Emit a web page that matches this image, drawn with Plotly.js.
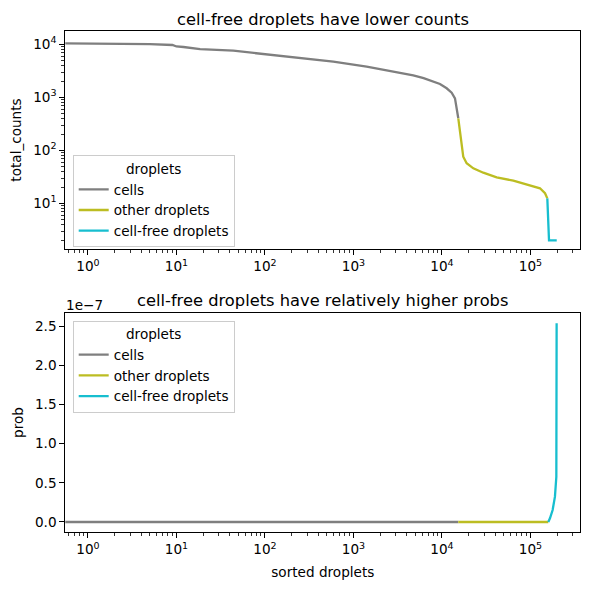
<!DOCTYPE html>
<html>
<head>
<meta charset="utf-8">
<script src="https://cdn.plot.ly/plotly-3.0.1.min.js"></script>
<style>html,body{margin:0;padding:0;background:#fff;}#chart{width:590px;height:590px;}</style>
</head>
<body>
<div id="chart"></div>
<script>
// ---- data ----
// top panel: total counts vs droplet rank
const cellsRank   = [0.5, 1, 2, 3, 5, 9, 10, 12, 18.5, 44, 104, 248, 592, 1410, 3350, 4740, 6200, 7310, 9490, 11300, 12870, 14030, 14660, 15290];
const cellsCounts = [10400, 10400, 10350, 10300, 10100, 9700, 9100, 8900, 8100, 7570, 6480, 5590, 4700, 3780, 2910, 2600, 2300, 2080, 1780, 1480, 1222, 958, 665, 402];
const otherRank   = [15290, 15970, 16700, 17400, 19000, 22600, 29300, 34800, 41500, 64000, 98700, 128000, 146000, 155000];
const otherCounts = [402, 242, 117, 75.7, 56.9, 45.7, 37.8, 34.2, 31.0, 26.7, 22.1, 19.2, 15.5, 12.4];
const freeRank    = [155000, 158500, 162000, 198000];
const freeCounts  = [12.4, 5, 2, 2];
// bottom panel: prob (in units of 1e-7) vs droplet rank
const cellsProbRank = [0.5, 15290];
const cellsProb     = [0, 0];
const otherProbRank = [15290, 159000];
const otherProb     = [0, 0];
const freeProbRank  = [159000, 166000, 178000, 189000, 196000, 196800, 197500];
const freeProb      = [0, 0.047, 0.153, 0.323, 0.578, 1.2, 2.54];

const seriesNames = ['cells', 'other droplets', 'cell-free droplets'];
const seriesColors = ['#7f7f7f', '#bcbd22', '#17becf'];
const xMajor = [1, 10, 100, 1000, 10000, 100000];
const xMajorText = ['10<sup>0</sup>', '10<sup>1</sup>', '10<sup>2</sup>', '10<sup>3</sup>', '10<sup>4</sup>', '10<sup>5</sup>'];
const yMajor = [10, 100, 1000, 10000];
const yMajorText = ['10<sup>1</sup>', '10<sup>2</sup>', '10<sup>3</sup>', '10<sup>4</sup>'];
const probTicks = [0, 0.5, 1.0, 1.5, 2.0, 2.5];
const probTickText = ['0.0', '0.5', '1.0', '1.5', '2.0', '2.5'];

function minorLog(lo, hi) {
  const v = [];
  for (let n = lo; n <= hi; n++) for (let k = 2; k <= 9; k++) v.push(k * Math.pow(10, n));
  return v;
}

const topX = [cellsRank, otherRank, freeRank];
const topY = [cellsCounts, otherCounts, freeCounts];
const botX = [cellsProbRank, otherProbRank, freeProbRank];
const botY = [cellsProb, otherProb, freeProb];

const traces = [];
for (let i = 0; i < 3; i++) {
  traces.push({x: topX[i], y: topY[i], type: 'scatter', mode: 'lines', name: seriesNames[i],
    line: {color: seriesColors[i], width: 2.3}, xaxis: 'x', yaxis: 'y', legend: 'legend', legendgroup: 't' + i});
}
for (let i = 0; i < 3; i++) {
  traces.push({x: botX[i], y: botY[i], type: 'scatter', mode: 'lines', name: seriesNames[i],
    line: {color: seriesColors[i], width: 2.3}, xaxis: 'x2', yaxis: 'y2', legend: 'legend2', legendgroup: 'b' + i});
}

const font = {family: 'DejaVu Sans, sans-serif', size: 13.6, color: '#000'};
const axCommon = {showline: true, mirror: true, linecolor: '#000', linewidth: 1, showgrid: false, zeroline: false,
  ticks: 'outside', ticklen: 5, tickwidth: 1, tickcolor: '#000', tickfont: font};
const minorCommon = {ticks: 'outside', ticklen: 3, tickwidth: 0.8, tickcolor: '#000', showgrid: false};

const xDom = [65.3 / 590, 580.3 / 590];
const legCommon = {xanchor: 'left', yanchor: 'top', bgcolor: 'rgba(255,255,255,0.8)', bordercolor: '#cccccc', borderwidth: 1,
  font: font, title: {text: 'droplets', side: 'top center', font: font}, traceorder: 'grouped', tracegroupgap: 0, itemwidth: 30};

const layout = {
  width: 590, height: 590, margin: {l: 0, r: 0, t: 0, b: 0},
  paper_bgcolor: '#fff', plot_bgcolor: '#fff', font: font, showlegend: true,
  xaxis: Object.assign({}, axCommon, {type: 'log', range: [-0.256, 5.563], domain: xDom, anchor: 'y',
    tickmode: 'array', tickvals: xMajor, ticktext: xMajorText,
    minor: Object.assign({}, minorCommon, {tickmode: 'array', tickvals: minorLog(-1, 5)})}),
  yaxis: Object.assign({}, axCommon, {type: 'log', range: [0.138, 4.251], domain: [1 - 249 / 590, 1 - 31 / 590], anchor: 'x',
    tickmode: 'array', tickvals: yMajor, ticktext: yMajorText,
    minor: Object.assign({}, minorCommon, {tickmode: 'array', tickvals: minorLog(0, 4)}),
    title: {text: 'total_counts', font: font, standoff: 8}}),
  xaxis2: Object.assign({}, axCommon, {type: 'log', range: [-0.256, 5.563], domain: xDom, anchor: 'y2',
    tickmode: 'array', tickvals: xMajor, ticktext: xMajorText,
    minor: Object.assign({}, minorCommon, {tickmode: 'array', tickvals: minorLog(-1, 5)}),
    title: {text: 'sorted droplets', font: font, standoff: 11}}),
  yaxis2: Object.assign({}, axCommon, {range: [-0.128, 2.67], domain: [1 - 532 / 590, 1 - 313 / 590], anchor: 'x2',
    tickmode: 'array', tickvals: probTicks, ticktext: probTickText,
    title: {text: 'prob', font: font, standoff: 8}}),
  legend: Object.assign({}, legCommon, {x: 72.7 / 590, y: 1 - 155.3 / 590}),
  legend2: Object.assign({}, legCommon, {x: 72.7 / 590, y: 1 - 320.7 / 590}),
  annotations: [
    {text: 'cell-free droplets have lower counts', xref: 'paper', yref: 'paper', x: (xDom[0] + xDom[1]) / 2, y: 1 - 19 / 590,
      xanchor: 'center', yanchor: 'middle', showarrow: false, font: Object.assign({}, font, {size: 16.3})},
    {text: 'cell-free droplets have relatively higher probs', xref: 'paper', yref: 'paper', x: (xDom[0] + xDom[1]) / 2, y: 1 - 300.8 / 590,
      xanchor: 'center', yanchor: 'middle', showarrow: false, font: Object.assign({}, font, {size: 16.3})},
    {text: '1e\u22127', xref: 'paper', yref: 'paper', x: 64 / 590, y: 1 - 305 / 590,
      xanchor: 'left', yanchor: 'middle', showarrow: false, font: font}
  ]
};

Plotly.newPlot('chart', traces, layout, {staticPlot: true, displayModeBar: false});
</script>
</body>
</html>
